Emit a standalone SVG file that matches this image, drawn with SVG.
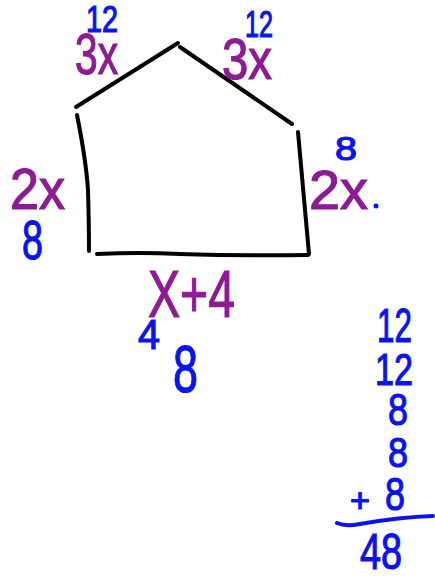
<svg xmlns="http://www.w3.org/2000/svg" width="435" height="580" viewBox="0 0 435 580">
<style>
.edge{fill:none;stroke:#000;stroke-width:4;stroke-linecap:round;stroke-linejoin:round}
.p{fill:#8e1a94;stroke:#8e1a94;stroke-width:1.2;font-family:"Liberation Sans",Arial,sans-serif}
.b{fill:#0a14ee;stroke:#0a14ee;stroke-width:1.2;font-family:"Liberation Sans",Arial,sans-serif}
.bl{fill:none;stroke:#0a14ee;stroke-width:4;stroke-linecap:round}
</style>
<rect width="435" height="580" fill="#fff"/>
<g id="pentagon">
<path class="edge" d="M76,107 L178,43"/>
<path class="edge" d="M180,47 L292,124"/>
<path class="edge" d="M77,115 Q86,160 88,190 Q89,225 89,251"/>
<path class="edge" d="M97,254 Q140,252 180,254 Q240,256 308,255"/>
<path class="edge" d="M298,132 Q303,190 309,254"/>
</g>
<g id="labels">
<text class="b" x="86" y="32" font-size="36" textLength="32" lengthAdjust="spacingAndGlyphs">12</text>
<text class="p" x="75" y="74" font-size="58" textLength="43" lengthAdjust="spacingAndGlyphs">3x</text>
<text class="b" x="245" y="37" font-size="36" textLength="28" lengthAdjust="spacingAndGlyphs">12</text>
<text class="p" x="222" y="79" font-size="58" textLength="50" lengthAdjust="spacingAndGlyphs">3x</text>
<text class="p" x="10" y="209" font-size="58" textLength="55" lengthAdjust="spacingAndGlyphs">2x</text>
<text class="b" x="22" y="259" font-size="56" textLength="21" lengthAdjust="spacingAndGlyphs">8</text>
<text class="b" x="335" y="160" font-size="34" textLength="22" lengthAdjust="spacingAndGlyphs">8</text>
<text class="p" x="309" y="209" font-size="56" textLength="59" lengthAdjust="spacingAndGlyphs">2x</text>
<circle cx="376" cy="206" r="2.5" fill="#0a14ee"/>
<text class="p" x="148" y="317" font-size="66" textLength="87" lengthAdjust="spacingAndGlyphs">X+4</text>
<text class="b" x="138" y="349" font-size="42" textLength="22" lengthAdjust="spacingAndGlyphs">4</text>
<text class="b" x="173" y="392" font-size="66" textLength="25" lengthAdjust="spacingAndGlyphs">8</text>
</g>
<g id="sum">
<text class="b" x="377" y="342" font-size="48" textLength="35" lengthAdjust="spacingAndGlyphs">12</text>
<text class="b" x="375" y="385" font-size="44" textLength="38" lengthAdjust="spacingAndGlyphs">12</text>
<text class="b" x="388" y="425" font-size="45" textLength="20" lengthAdjust="spacingAndGlyphs">8</text>
<text class="b" x="388" y="467" font-size="42" textLength="20" lengthAdjust="spacingAndGlyphs">8</text>
<text class="b" x="350" y="512" font-size="34" textLength="20" lengthAdjust="spacingAndGlyphs">+</text>
<text class="b" x="385" y="510" font-size="46" textLength="20" lengthAdjust="spacingAndGlyphs">8</text>
<path class="bl" d="M337,523 Q345,527 360,524 Q400,517 433,516"/>
<text class="b" x="360" y="569" font-size="50" textLength="42" lengthAdjust="spacingAndGlyphs">48</text>
</g>
</svg>
